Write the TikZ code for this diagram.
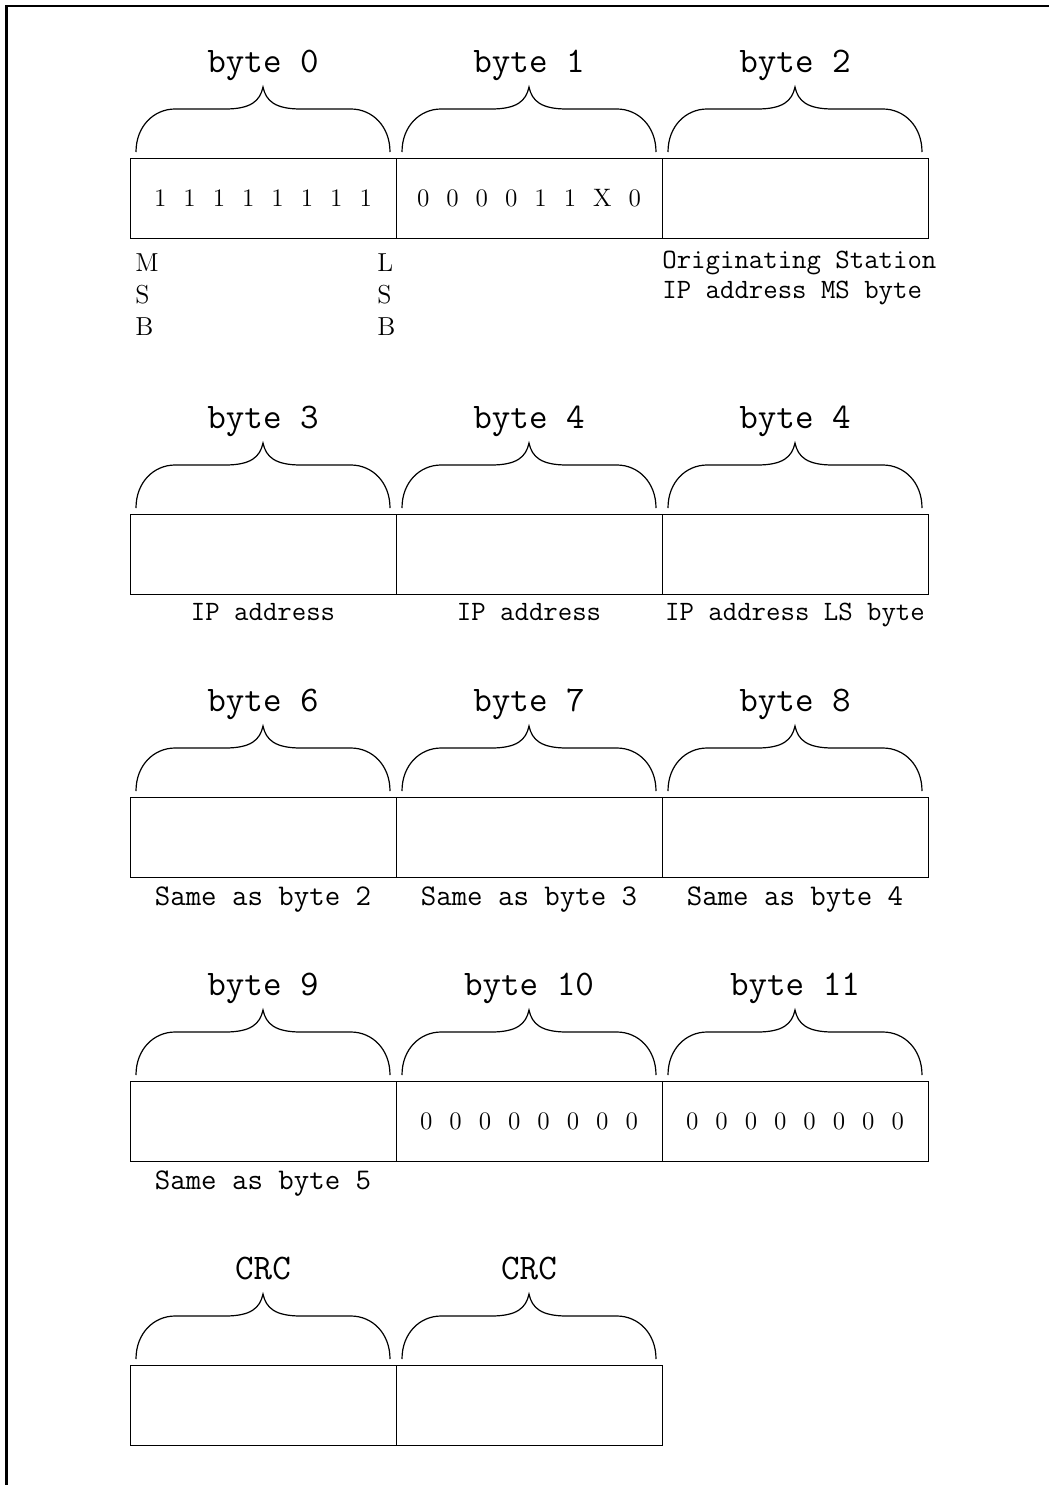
\documentclass[tikz,border=0pt]{standalone}
\usepackage{fontspec}
\usetikzlibrary{positioning}

\tikzset{
  bytecell/.style={draw, line width=0.5pt, minimum width=133pt, minimum height=40pt, inner sep=0pt, outer sep=0pt},
  bytehead/.style={font=\ttfamily\fontsize{18}{20}\selectfont, anchor=base, inner sep=0pt},
  note/.style={font=\ttfamily\fontsize{14}{15}\selectfont, anchor=base, inner sep=0pt},
  samenote/.style={font=\ttfamily\fontsize{15}{16}\selectfont, anchor=base, inner sep=0pt},
  bitrow/.style={font=\fontsize{12.6}{14}\selectfont},
  sidemark/.style={font=\fontsize{13}{16}\selectfont, align=left, inner sep=0pt, anchor=north west},
  braceline/.style={line width=0.6pt},
  frameline/.style={line width=1.4pt},
}

% eight bits, widely spaced
\newcommand{\octet}[8]{#1\hspace{8.5pt}#2\hspace{8.5pt}#3\hspace{8.5pt}#4\hspace{8.5pt}#5\hspace{8.5pt}#6\hspace{8.5pt}#7\hspace{8.5pt}#8}

% curly brace over a byte cell
\newcommand{\bytebrace}[1]{%
  \draw[braceline] ([shift={(-127,-6)}]#1.north)
    .. controls +(0,-26) and +(-21,0) .. ++(39,-43) -- ++(50,0)
    .. controls +(26,0) and +(-3,14) .. ++(38,-22)
    .. controls +(3,14) and +(-26,0) .. ++(38,22) -- ++(50,0)
    .. controls +(21,0) and +(0,-26) .. ++(39,43);}

\begin{document}
\begin{tikzpicture}[x=0.5pt, y=-0.5pt]
    \useasboundingbox (0,0) rectangle (1049,1485);
    \draw[frameline] (1049,6) -- (6.5,6) -- (6.5,1485);

    % bytes 0-2
    \node[bytecell, bitrow] (c00) at (263,198) {\octet11111111};
    \node[bytecell, bitrow, right=0pt of c00] (c01) {\octet000011X0};
    \node[bytecell, right=0pt of c01] (c02) {};
    \node[bytehead] (h00) at ([yshift=43pt]c00.north) {byte 0};
    \node[bytehead] (h01) at ([yshift=43pt]c01.north) {byte 1};
    \node[bytehead] (h02) at ([yshift=43pt]c02.north) {byte 2};
    \bytebrace{c00} \bytebrace{c01} \bytebrace{c02}
    \node[sidemark] (msb) at ([xshift=2.5pt, yshift=-7.5pt]c00.south west) {M\\S\\B};
    \node[sidemark] (lsb) at ([xshift=-9.5pt, yshift=-7.5pt]c00.south east) {L\\S\\B};
    \node[note, anchor=north west, align=left] (n02) at ([yshift=-6.5pt]c02.south west) {Originating Station\\IP address MS byte};

    % bytes 3-5
    \node[bytecell] (c10) at (263,554) {};
    \node[bytecell, right=0pt of c10] (c11) {};
    \node[bytecell, right=0pt of c11] (c12) {};
    \node[bytehead] (h10) at ([yshift=43pt]c10.north) {byte 3};
    \node[bytehead] (h11) at ([yshift=43pt]c11.north) {byte 4};
    \node[bytehead] (h12) at ([yshift=43pt]c12.north) {byte 4};
    \bytebrace{c10} \bytebrace{c11} \bytebrace{c12}
    \node[note] (n10) at ([yshift=-13pt]c10.south) {IP address};
    \node[note] (n11) at ([yshift=-13pt]c11.south) {IP address};
    \node[note] (n12) at ([yshift=-13pt]c12.south) {IP address LS byte};

    % bytes 6-8
    \node[bytecell] (c20) at (263,837) {};
    \node[bytecell, right=0pt of c20] (c21) {};
    \node[bytecell, right=0pt of c21] (c22) {};
    \node[bytehead] (h20) at ([yshift=43pt]c20.north) {byte 6};
    \node[bytehead] (h21) at ([yshift=43pt]c21.north) {byte 7};
    \node[bytehead] (h22) at ([yshift=43pt]c22.north) {byte 8};
    \bytebrace{c20} \bytebrace{c21} \bytebrace{c22}
    \node[samenote] (n20) at ([yshift=-14pt]c20.south) {Same as byte 2};
    \node[samenote] (n21) at ([yshift=-14pt]c21.south) {Same as byte 3};
    \node[samenote] (n22) at ([yshift=-14pt]c22.south) {Same as byte 4};

    % bytes 9-11
    \node[bytecell] (c30) at (263,1121) {};
    \node[bytecell, bitrow, right=0pt of c30] (c31) {\octet00000000};
    \node[bytecell, bitrow, right=0pt of c31] (c32) {\octet00000000};
    \node[bytehead] (h30) at ([yshift=43pt]c30.north) {byte 9};
    \node[bytehead] (h31) at ([yshift=43pt]c31.north) {byte 10};
    \node[bytehead] (h32) at ([yshift=43pt]c32.north) {byte 11};
    \bytebrace{c30} \bytebrace{c31} \bytebrace{c32}
    \node[samenote] (n30) at ([yshift=-14pt]c30.south) {Same as byte 5};

    % CRC
    \node[bytecell] (c40) at (263,1405) {};
    \node[bytecell, right=0pt of c40] (c41) {};
    \node[bytehead] (h40) at ([yshift=43pt]c40.north) {CRC};
    \node[bytehead] (h41) at ([yshift=43pt]c41.north) {CRC};
    \bytebrace{c40} \bytebrace{c41}
\end{tikzpicture}
\end{document}
